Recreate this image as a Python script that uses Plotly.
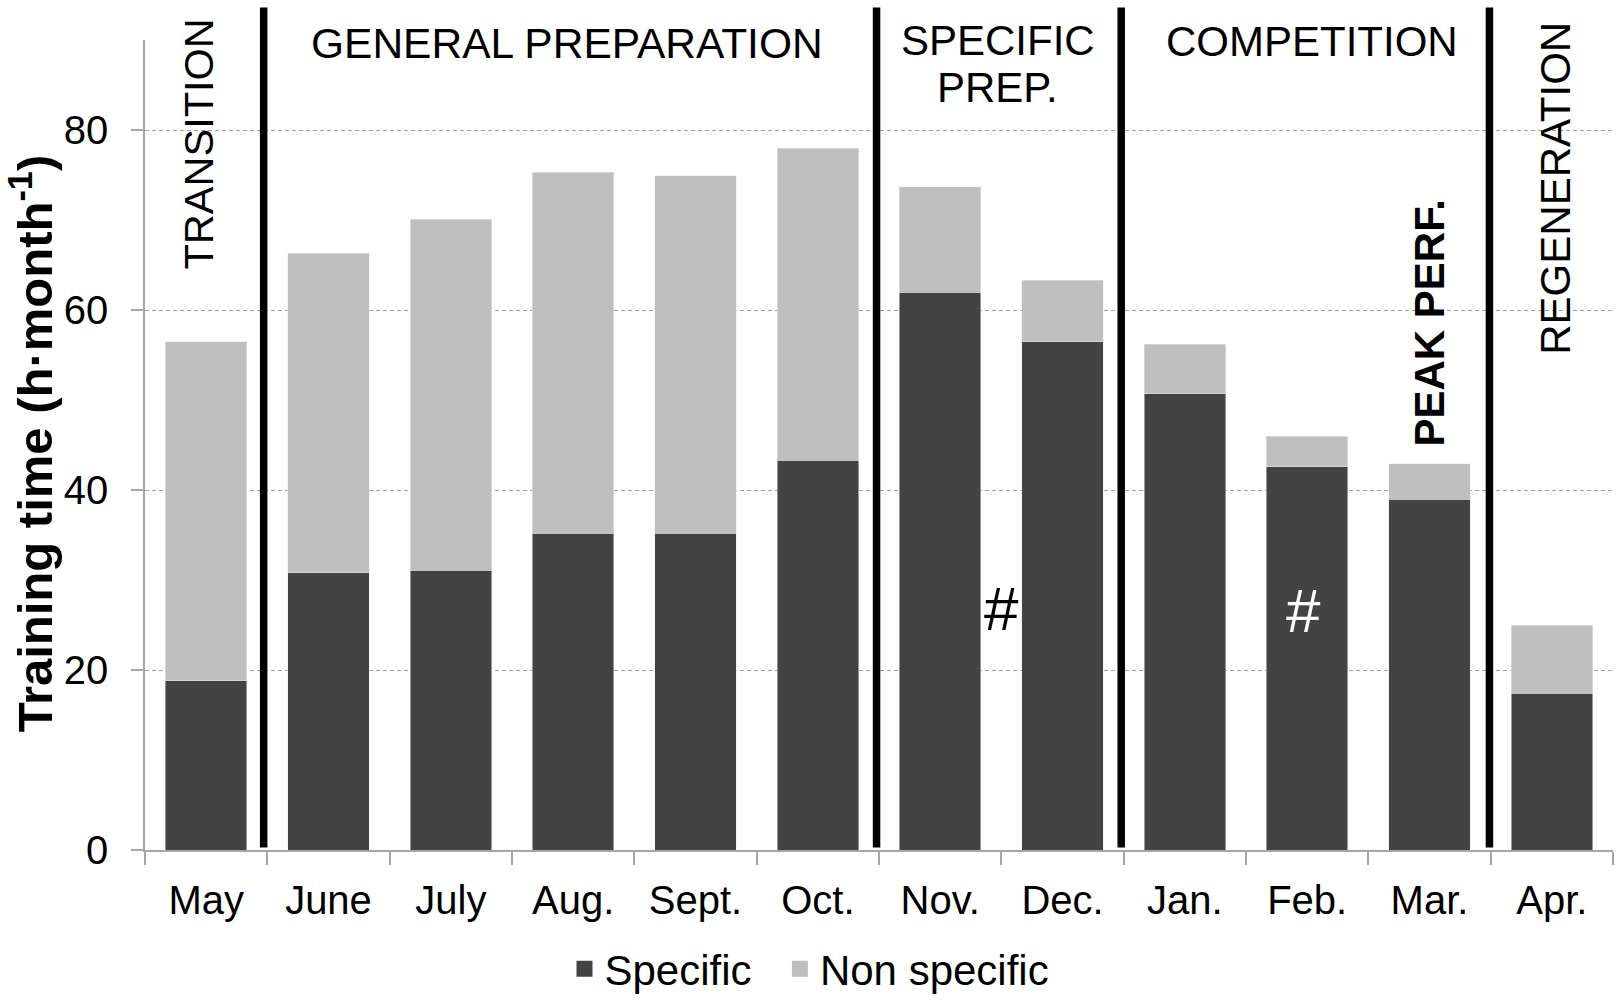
import plotly.graph_objects as go

months = ["May", "June", "July", "Aug.", "Sept.", "Oct.", "Nov.", "Dec.", "Jan.", "Feb.", "Mar.", "Apr."]
specific = [18.8, 30.8, 31.1, 35.2, 35.2, 43.3, 62.0, 56.5, 50.7, 42.6, 39.0, 17.4]
total = [56.5, 66.3, 70.1, 75.3, 74.9, 78.0, 73.7, 63.3, 56.2, 46.0, 42.9, 25.0]
non_specific = [round(t - s, 1) for t, s in zip(total, specific)]
series_names = ["Specific", "Non specific"]

# phase boundaries (category positions)
phase_bounds = [0.47, 5.48, 7.48, 10.49]

FONT = "Arial, Liberation Sans, sans-serif"
DARK = "#434343"
LIGHT = "#bfbfbf"

fig = go.Figure()
fig.add_trace(go.Bar(x=months, y=specific, name=series_names[0], marker_color=DARK, showlegend=False))
fig.add_trace(go.Bar(x=months, y=non_specific, name=series_names[1], marker_color=LIGHT, showlegend=False))
# legend entries (square swatches)
fig.add_trace(go.Scatter(x=[None], y=[None], mode="markers", name=series_names[0] + "\u00a0\u00a0",
                         marker=dict(symbol="square", size=20, color=DARK)))
fig.add_trace(go.Scatter(x=[None], y=[None], mode="markers", name=series_names[1],
                         marker=dict(symbol="square", size=20, color=LIGHT)))

n = len(months)
def px(idx):
    return (idx + 0.5) / n

for b in phase_bounds:
    fig.add_shape(type="line", xref="paper", yref="paper", x0=px(b), x1=px(b), y0=0.003, y1=1.04,
                  line=dict(color="black", width=7.5))

ann = [
    dict(text="TRANSITION", x=-0.06, y=0.872, textangle=-90, size=41.5),
    dict(text="GENERAL PREPARATION", x=2.95, y=0.996, textangle=0, size=42.5),
    dict(text="SPECIFIC", x=6.47, y=1.0, textangle=0, size=42),
    dict(text="PREP.", x=6.47, y=0.941, textangle=0, size=42),
    dict(text="COMPETITION", x=9.04, y=0.998, textangle=0, size=42),
    dict(text="REGENERATION", x=11.03, y=0.817, textangle=-90, size=42),
    dict(text="<b>PEAK PERF.</b>", x=10.0, y=0.6506, textangle=-90, size=42),
]
for a in ann:
    fig.add_annotation(text=a["text"], xref="x", yref="paper", x=a["x"], y=a["y"],
                       textangle=a["textangle"], showarrow=False, xanchor="center", yanchor="middle",
                       font=dict(family=FONT, size=a["size"], color="black"))

fig.add_annotation(text="#", xref="x", yref="y", x=6.5, y=26.8, showarrow=False,
                   font=dict(family=FONT, size=62, color="black"))
fig.add_annotation(text="#", xref="x", yref="y", x=8.97, y=26.6, showarrow=False,
                   font=dict(family=FONT, size=62, color="white"))

# y-axis title
fig.add_annotation(text="<b>Training time (h·month<sup>-1</sup>)</b>", xref="paper", yref="paper",
                   x=-0.077, y=0.502, textangle=-90, showarrow=False, xanchor="center", yanchor="middle",
                   font=dict(family=FONT, size=49, color="black"))

fig.update_layout(
    width=1624, height=1002,
    margin=dict(l=145, r=11, t=40, b=152),
    barmode="stack", bargap=0.333,
    plot_bgcolor="white", paper_bgcolor="white",
    font=dict(family=FONT, size=40, color="black"),
    legend=dict(orientation="h", xref="container", yref="container", x=0.3476, y=0.033,
                xanchor="left", yanchor="middle", font=dict(size=42, family=FONT),
                itemsizing="trace", traceorder="normal"),
)
fig.update_xaxes(
    type="category", range=[-0.5, n - 0.5],
    showline=True, linecolor="#a6a6a6", linewidth=1.5,
    ticks="outside", tickson="boundaries", ticklen=13, tickcolor="#a6a6a6", tickwidth=1.5,
    tickfont=dict(size=40, family=FONT), ticklabelstandoff=14, showgrid=False,
)
fig.update_yaxes(
    range=[0, 90], tickvals=[0, 20, 40, 60, 80],
    showline=True, linecolor="#a6a6a6", linewidth=1.5,
    ticks="outside", ticklen=12, tickcolor="#a6a6a6", tickwidth=1.5,
    tickfont=dict(size=40, family=FONT), ticklabelstandoff=15,
    showgrid=True, gridcolor="#a0a0a0", gridwidth=1, griddash="4px,3px",
    zeroline=False,
)

fig.write_html("out.html")
